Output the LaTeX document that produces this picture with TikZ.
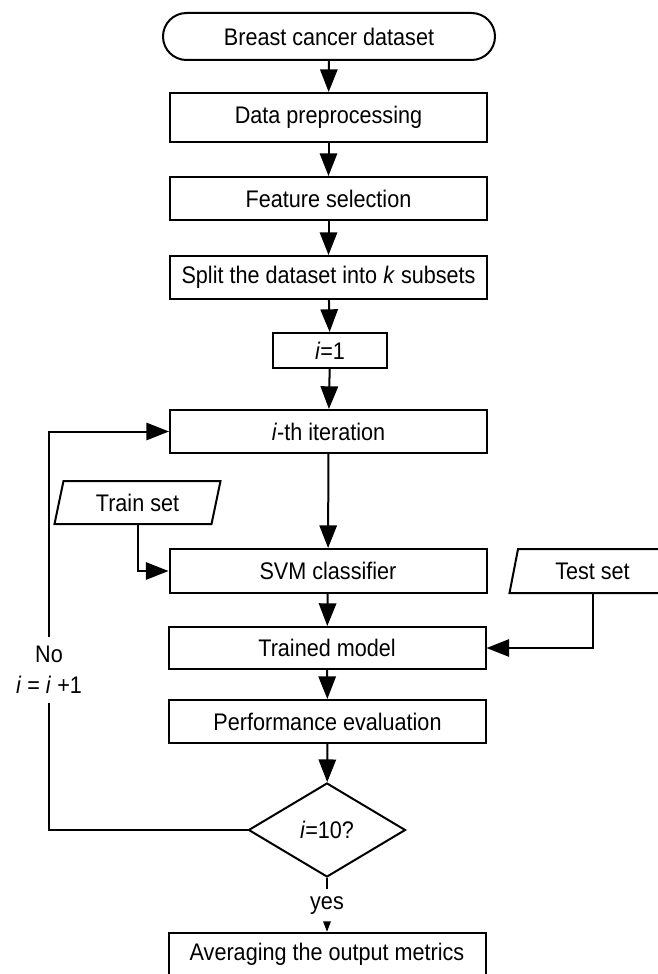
\documentclass[tikz,border=0pt]{standalone}
\usepackage{fontspec}
\setmainfont[FakeStretch=0.9]{Liberation Sans}
\usetikzlibrary{shapes,arrows.meta,positioning,calc}

\begin{document}
\begin{tikzpicture}[x=0.75pt,y=-0.75pt,
    every node/.style={font=\fontsize{18}{23}\selectfont},
    box/.style={draw, line width=1.5pt, minimum width=237.75pt, minimum height=32.25pt, inner sep=0pt},
    term/.style={draw, rounded rectangle, line width=1.5pt, minimum width=249pt, minimum height=35.25pt, inner sep=0pt},
    io/.style={draw, trapezium, trapezium left angle=63, trapezium right angle=117, trapezium stretches body, line width=1.5pt, minimum width=124.5pt, minimum height=32.25pt, inner sep=0pt},
    decide/.style={draw, diamond, line width=1.5pt, minimum width=117.75pt, minimum height=70.5pt, inner sep=0pt},
    flow/.style={line width=1.5pt, -{Triangle[length=17pt,width=13pt]}},
    plain/.style={line width=1.5pt}]
    \useasboundingbox (0,0) rectangle (657,974);

    % Main column
    \node[term] (start) at (329, 36.5) {Breast cancer dataset};
    \node[box, minimum height=36.75pt] (prep) at (328.5, 117.5) {Data preprocessing};
    \node[box] (feat) at (328.5, 198.5) {Feature selection};
    \node[box] (split) at (328.5, 277.5) {Split the dataset into \textit{k} subsets};
    \node[box, minimum width=85.5pt, minimum height=26.25pt] (init) at (330, 350.5) {\textit{i}=1};
    \node[box] (iter) at (328.5, 431.5) {\textit{i}-th iteration};
    \node[box, minimum height=33pt] (svm) at (328, 571) {SVM classifier};
    \node[box, minimum height=31.5pt] (trained) at (327, 648) {Trained model};
    \node[box] (perf) at (327.5, 721.5) {Performance evaluation};
    \node[decide] (dec) at (327, 830) {\textit{i}=10?};
    \node[box] (avg) at (327, 954.5) {Averaging the output metrics};

    % Inputs
    \node[io] (train) at (137.5, 502.5) {Train set};
    \node[io, minimum height=33pt] (test) at (592.5, 571) {Test set};

    % Labels
    \node[align=center, inner sep=0pt, minimum height=49.5pt] (no) at (49, 670) {No\\\textit{i} = \textit{i} +1};
    \node[inner sep=0pt, minimum height=24.75pt] (yes) at (327, 905.5) {yes};

    % Connectors
    \draw[flow] (start) -- (prep);
    \draw[flow] (prep) -- (feat);
    \draw[flow] (feat) -- (split);
    \draw[flow] (split) -- (init);
    \draw[flow] (init) -- (iter);
    \draw[flow] (iter) -- (svm);
    \draw[flow] (svm) -- (trained);
    \draw[flow] (trained) -- (perf);
    \draw[flow] (perf) -- (dec);
    \draw[flow] (train.south) |- (svm.west);
    \draw[flow] (test.south) |- (trained.east);

    % Loop back
    \draw[plain] (dec.west) -| (no.south);
    \draw[flow] (no.north) |- (iter.west);

    % Exit
    \draw[plain] (dec.south) -- (yes.north);
    \draw[line width=1.5pt, -{Triangle[length=8pt,width=5.5pt]}] (yes.south) -- (avg.north);
\end{tikzpicture}
\end{document}
